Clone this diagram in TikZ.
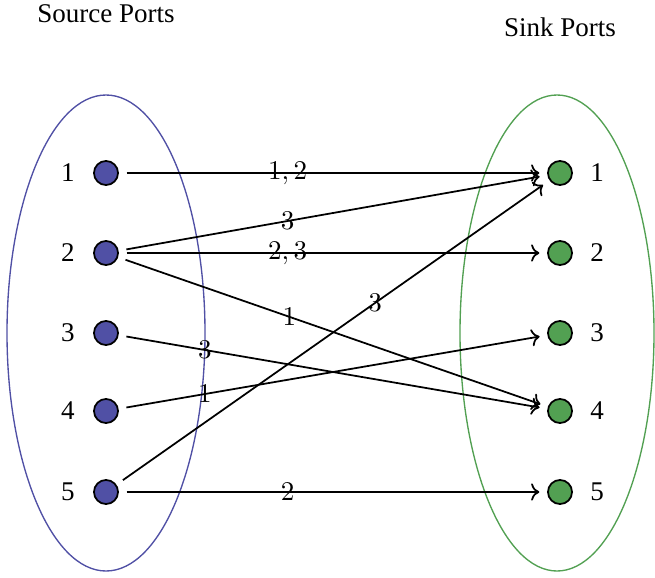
\documentclass[tikz,border=0pt]{standalone}
\usepackage{fontspec}
\setmainfont{Liberation Serif}
\usepackage{amsmath}
\usetikzlibrary{arrows.meta}

\definecolor{srcblue}{RGB}{80,80,165}
\definecolor{snkgreen}{RGB}{82,160,82}

\tikzset{
	port/.style={circle, draw, line width=0.65pt, minimum size=8.9pt, inner sep=0pt, outer sep=3.2pt},
	srcport/.style={port, fill=srcblue},
	snkport/.style={port, fill=snkgreen},
	flow/.style={->, line width=0.65pt},
	lbl/.style={inner sep=1pt}
}

\begin{document}
\begin{tikzpicture}[x=0.37pt, y=-0.37pt]

				\useasboundingbox (0,0) rectangle (655,577);

				% Titles
				\node (srctitle) at (106,14) {Source Ports};
				\node (snktitle) at (560,27) {Sink Ports};

				% Port groups
				\draw[srcblue, line width=0.5pt] (106,333) ellipse [x radius=99, y radius=238];
				\draw[snkgreen, line width=0.5pt] (557,333) ellipse [x radius=97, y radius=238];

				% Ports with their numbers
				\foreach \i/\y in {1/173,2/253,3/333,4/411,5/492} {
					\node[srcport] (s\i) at (106,\y) {};
					\node (s\i l) at (68,\y) {\i};
					\node[snkport] (t\i) at (560,\y) {};
					\node (t\i l) at (597,\y) {\i};
				}

				% Flows between ports
				\draw[flow] (s1) -- node[lbl, pos=0.39] {$1,2$} (t1);
				\draw[flow] (s2) -- node[lbl, pos=0.39] {$3$} (t1);
				\draw[flow] (s2) -- node[lbl, pos=0.39] {$2,3$} (t2);
				\draw[flow] (s2) -- node[lbl, pos=0.395] {$1$} (t4);
				\draw[flow] (s3) -- node[lbl, pos=0.19] {$3$} (t4);
				\draw[flow] (s4) -- node[lbl, pos=0.19] {$1$} (t3);
				\draw[flow] (s5) -- node[lbl, pos=0.6] {$3$} (t1);
				\draw[flow] (s5) -- node[lbl, pos=0.39] {$2$} (t5);

			\end{tikzpicture}
\end{document}
